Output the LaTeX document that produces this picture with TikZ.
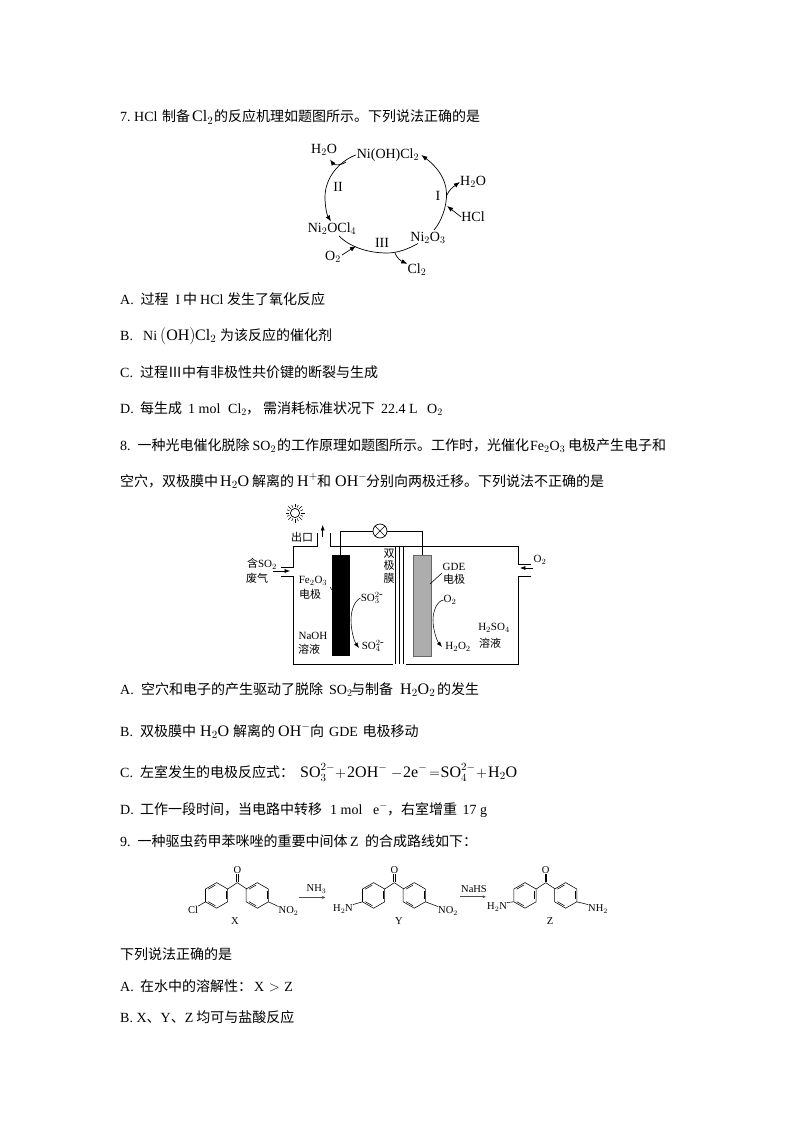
\documentclass[tikz,border=0pt]{standalone}
\usepackage{fontspec}
\setmainfont{Noto Sans CJK SC}
\newfontfamily\tmfont{Liberation Serif}
\newcommand{\fsz}[1]{\fontsize{#1}{#1}\selectfont}
\newcommand{\tm}[1]{{\tmfont #1}}
\newcommand{\fm}[1]{{\fsz{16}\tmfont #1}}
\newcommand{\fr}[2]{\makebox[#1pt][l]{#2}}
\usetikzlibrary{positioning,arrows.meta}

\tikzset{
ketone/.pic={
  \coordinate (-c) at (0,0);
  \node[chem] (-o) at (0,-12.5) {\tm{O}};
  \draw[bond] (-0.9,-1) -- (-0.9,-8.5) (0.9,-1) -- (0.9,-8.5);
  \draw[bond] (-9.6,6.3) -- (0,0) -- (9.6,6.3);
  \begin{scope}[shift={(-20.7,12.7)}]
    \draw[bond] (30:12.8) -- (90:12.8) -- (150:12.8) -- (210:12.8) -- (270:12.8) -- (330:12.8) -- cycle;
    \foreach \a in {90,210,330}
      \draw[bond] (\a+7:10.4) -- (\a+53:10.4);
    \coordinate (-lv) at (150:12.8);
  \end{scope}
  \begin{scope}[shift={(20,12.7)}]
    \draw[bond] (30:12.8) -- (90:12.8) -- (150:12.8) -- (210:12.8) -- (270:12.8) -- (330:12.8) -- cycle;
    \foreach \a in {90,210,330}
      \draw[bond] (\a+7:10.4) -- (\a+53:10.4);
    \coordinate (-rv) at (30:12.8);
  \end{scope}
}}

\begin{document}
\begin{tikzpicture}[
x=1pt,y=-1pt,
>=Latex,
line/.style={
  anchor=base west,
  inner sep=0pt,
  font=\fsz{14}
  },
cyc/.style={
  inner sep=0pt,
  font=\fsz{14}\tmfont
  },
lab/.style={
  inner sep=0pt,
  font=\fsz{11}\tmfont
  },
chem/.style={
  inner sep=0pt,
  font=\fsz{10.5}\tmfont
  },
bond/.style={
  line width=0.55pt
  },
wire/.style={
  line width=0.7pt
  }
]
\useasboundingbox[fill=white] (0,0) rectangle (794,1123);

% question 7
\node[line] (qseven) at (120,122) {\fr{14}{\tm{7.}}\fr{28}{\tm{HCl}}\fr{30}{制备}\fr{22}{\fm{Cl$_2$}}的反应机理如题图所示。下列说法正确的是};

\node[cyc] (nioh) at (388,155) {Ni(OH)Cl$_2$};
\node[cyc] (wtl) at (324,150) {H$_2$O};
\node[cyc] (wtr) at (473,182) {H$_2$O};
\node[cyc] (hcl) at (473,217) {HCl};
\node[cyc] (nio) at (428,238) {Ni$_2$O$_3$};
\node[cyc] (clt) at (417,270) {Cl$_2$};
\node[cyc] (oxg) at (333,257) {O$_2$};
\node[cyc] (nicl) at (332,229) {Ni$_2$OCl$_4$};
\node[cyc] (rone) at (438,196) {I};
\node[cyc] (rtwo) at (338,187) {II};
\node[cyc] (rthree) at (382,243) {III};

\draw[wire,->] (434,230) .. controls (441,222) and (447,207) .. (446.5,193) .. controls (446,178) and (436,166) .. ([xshift=2pt]nioh.east);
\draw[wire,->] ([xshift=-1pt]nioh.west) .. controls (340,161) and (325,177) .. (325,197) .. controls (325,207) and (327,215) .. (331,221.5);
\draw[wire] (339,236) .. controls (350,247) and (368,253) .. (387,253) .. controls (398,253) and (408,249) .. (418,243.5);
\draw[wire,->] (346,162) .. controls (340,166) and (334,165) .. (330,159.5);
\draw[wire,->] (447,195) .. controls (449,190) and (453,187) .. (wtr.west);
\draw[wire,->] (hcl.west) -- (447,206);
\draw[wire,->] (oxg.east) ++(1,-2) -- (356,246);
\draw[wire,->] (395,253.3) .. controls (397,258) and (401,261) .. (clt.north west);

\node[line] (sevena) at (120,304) {\fr{20.5}{\tm{A.}}\fr{35}{过程}\fr{7.5}{\tm{I}}\fr{17}{中}\fr{27}{\tm{HCl}}发生了氧化反应};
\node[line] (sevenb) at (120,340) {\fr{23}{\tm{B.}}\fr{17}{\tm{Ni}}\fr{35}{\fm{$\bigl($OH$\bigr)$}}\fr{25}{\fm{Cl$_2$}}为该反应的催化剂};
\node[line] (sevenc) at (120,377) {\fr{20}{\tm{C.}}\fr{28}{过程}\fr{14}{Ⅲ}中有非极性共价键的断裂与生成};
\node[line] (sevend) at (120,413) {\fr{20}{\tm{D.}}\fr{48}{每生成}\fr{40}{\tm{1 mol}}\fr{18}{\tm{Cl$_2$}}\fr{17}{，}\fr{118}{需消耗标准状况下}\fr{46}{\tm{22.4 L}}\tm{O$_2$}};

% question 8
\node[line] (qeight) at (120,450) {\fr{17.5}{\tm{8.}}\fr{115}{一种光电催化脱除}\fr{24.5}{\tm{SO$_2$}}\fr{253}{的工作原理如题图所示。工作时，光催化}\fr{38}{\tm{Fe$_2$O$_3$}}电极产生电子和};
\node[line] (qeightb) at (120,486) {\fr{100}{空穴，双极膜中}\fr{32}{\fm{H$_2$O}}\fr{45}{解离的}\fr{20}{\fm{H$^+$}}\fr{18}{和}\fr{31}{\fm{OH$^-$}}分别向两极迁移。下列说法不正确的是};

\node[lab] (sun) at (295,513) {};
\draw[wire] (sun) circle (4.6);
\foreach \a in {0,45,...,315}
  \draw[bond] (sun) ++(\a:6) -- ++(\a:3.5);
\foreach \a in {22.5,67.5,...,337.5}
  \draw[bond] (sun) ++(\a:6) -- ++(\a:2.5);

\node[lab] (outlet) at (302,537) {\fsz{11}\rmfamily 出口};
\coordinate (tubea) at (317,533);
\coordinate (tubeb) at (330,533);
\coordinate (boxtl) at (293,546);
\coordinate (boxtr) at (518,546);
\coordinate (boxbl) at (293,664);
\coordinate (boxbr) at (518,664);
\draw[wire] (tubea) -- (317,546) -- (boxtl) -- (293,567) -- (281,567);
\draw[wire] (281,576) -- (293,576) -- (boxbl) -- (393,664);
\draw[wire] (tubeb) -- (330,546) -- (boxtr) -- (518,564) -- (531,564);
\draw[wire] (531,576) -- (518,576) -- (boxbr) -- (406,664);
\draw[bond,->] (322.7,537) -- (322.7,525);
\draw[bond,->] (273,571) -- (290,571);
\draw[bond,->] (533,568) -- (520,568);

\foreach \mx in {395,399.5,403.5}
  \draw[wire] (\mx,546) -- (\mx,664);

\node[fill=black,minimum width=18.5pt,minimum height=101pt,inner sep=0pt] (feel) at (341,605.5) {};
\node[draw=black!60,fill=black!32,minimum width=18pt,minimum height=101pt,inner sep=0pt,line width=0.5pt] (gdeel) at (422.5,605.5) {};
\node[draw,circle,inner sep=0pt,minimum size=14pt,line width=0.7pt] (bulb) at (380,531) {};
\draw[bond] (bulb.north west) -- (bulb.south east) (bulb.north east) -- (bulb.south west);
\draw[wire] (bulb.west) -- (340,531) -- (340,555);
\draw[wire] (bulb.east) -- (422.3,531) -- (422.3,555);

\node[lab] (ingas) at (262,564) {\rmfamily 含\tm{SO$_2$}};
\node[lab] (waste) at (257,578) {\rmfamily 废气};
\node[lab] (oright) at (540,560) {O$_2$};
\node[lab,align=center] (mem) at (389,566) {\rmfamily 双\\[1.5pt]\rmfamily 极\\[1.5pt]\rmfamily 膜};
\node[lab] (fe) at (313,581) {Fe$_2$O$_3$};
\node[lab] (feb) at (310,594) {\rmfamily 电极};
\node[lab] (gde) at (454,567) {GDE};
\node[lab] (gdeb) at (454,579) {\rmfamily 电极};
\node[lab] (sothree) at (372,598) {SO$_3^{2\mbox{-}}$};
\node[lab] (sofour) at (373,646) {SO$_4^{2\mbox{-}}$};
\node[lab] (otwo) at (450,600) {O$_2$};
\node[lab] (hoo) at (458,647) {H$_2$O$_2$};
\node[lab] (naoh) at (313,636) {NaOH};
\node[lab] (naohb) at (309,649) {\rmfamily 溶液};
\node[lab] (acid) at (494,628) {H$_2$SO$_4$};
\node[lab] (acidb) at (490,643) {\rmfamily 溶液};

\draw[bond] (330,587) -- (332,590);
\draw[bond] (430,584) -- (442,573);
\draw[bond,->] (sothree.west) .. controls (354,601) and (351,611) .. (351,620) .. controls (351,630) and (354,641) .. (359,648);
\draw[bond,->] (otwo.west) .. controls (437,601) and (433,611) .. (433,620) .. controls (433,630) and (437,641) .. (442,647);

\node[line] (eighta) at (120,694) {\fr{21}{\tm{A.}}\fr{188}{空穴和电子的产生驱动了脱除}\fr{22}{\tm{SO$_2$}}\fr{49}{与制备}\fr{37}{\fm{H$_2$O$_2$}}的发生};
\node[line] (eightb) at (120,736) {\fr{20}{\tm{B.}}\fr{60}{双极膜中}\fr{33}{\fm{H$_2$O}}\fr{45}{解离的}\fr{32}{\fm{OH$^-$}}\fr{19}{向}\fr{33.5}{\tm{GDE}}电极移动};
\node[line] (eightc) at (120,777) {\fr{20}{\tm{C.}}\fr{160}{左室发生的电极反应式：}\fr{35}{\fm{SO$_3^{2-}$}}\fr{12}{\tm{$+$}}\fr{44}{\fm{2OH$^-$}}\fr{12}{\tm{$-$}}\fr{26}{\fm{2e$^-$}}\fr{11.5}{\tm{$=$}}\fr{35.5}{\fm{SO$_4^{2-}$}}\fr{12}{\tm{$+$}}\fm{H$_2$O}};
\node[line] (eightd) at (120,814) {\fr{20}{\tm{D.}}\fr{190}{工作一段时间，当电路中转移}\fr{43}{\tm{1 mol}}\fr{14}{\tm{e$^-$}}\fr{14}{，}\fr{61.5}{右室增重}\tm{17 g}};

% question 9
\node[line] (qnine) at (120,846) {\fr{17.5}{\tm{9.}}\fr{212.5}{一种驱虫药甲苯咪唑的重要中间体}\fr{15}{\tm{Z}}的合成路线如下：};

\pic (molx) at (237.3,882.7) {ketone};
\pic (moly) at (394.3,882.7) {ketone};
\pic (molz) at (545.7,882.7) {ketone};

\node[chem] (cl) at (193,910) {Cl};
\node[chem] (nox) at (288.5,911) {NO$_2$};
\node[chem] (hny) at (343,909) {H$_2$N};
\node[chem] (noy) at (448,911) {NO$_2$};
\node[chem] (hnz) at (497,907) {H$_2$N};
\node[chem] (nhz) at (598,909) {NH$_2$};
\node[chem] (xname) at (235,921) {X};
\node[chem] (yname) at (399,921) {Y};
\node[chem] (zname) at (550,921) {Z};
\draw[bond] (molx-lv) -- (cl.north east);
\draw[bond] (molx-rv) -- (nox.north west);
\draw[bond] (moly-lv) -- (hny.north east);
\draw[bond] (moly-rv) -- (noy.north west);
\draw[bond] (molz-lv) -- (hnz.north east);
\draw[bond] (molz-rv) -- (nhz.north west);

\node[chem] (nthree) at (316.5,889) {NH$_3$};
\node[chem] (nahs) at (474,889) {NaHS};
\draw[line width=0.9pt,black!70,-{Latex[length=3pt,width=3pt]}] (nthree.south west) ++(-7,4) -- ++(26,0);
\draw[line width=0.9pt,black!70,-{Latex[length=3pt,width=3pt]}] (nahs.south west) ++(-1,4) -- ++(26,0);

\node[line] (nineq) at (120,959) {下列说法正确的是};
\node[line] (ninea) at (120,991) {\fr{20}{\tm{A.}}\fr{114}{在水中的溶解性：}\tm{X\hspace{1pt} $>$ \hspace{1pt}Z}};
\node[line] (nineb) at (120,1022) {\tm{B. X}、\tm{Y}、\tm{Z} 均可与盐酸反应};

\end{tikzpicture}
\end{document}
